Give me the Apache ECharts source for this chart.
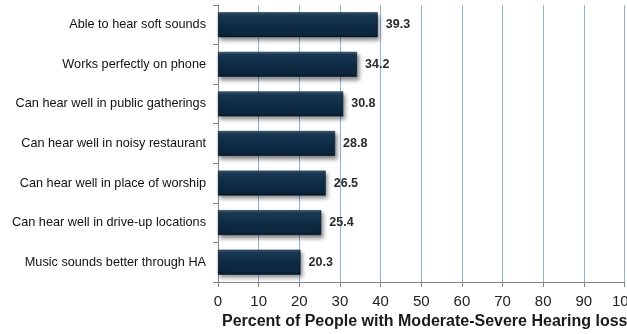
<!DOCTYPE html>
<html>
<head>
<meta charset="utf-8">
<script src="https://cdn.jsdelivr.net/npm/echarts@6/dist/echarts.min.js"></script>
<style>
  html, body { margin: 0; padding: 0; background: #ffffff; }
  #chart { width: 627px; height: 334px; }
</style>
</head>
<body>
<div id="chart"></div>
<script>
// Hearing-aid benefits, listed top to bottom
const categories = [
  'Able to hear soft sounds',
  'Works perfectly on phone',
  'Can hear well in public gatherings',
  'Can hear well in noisy restaurant',
  'Can hear well in place of worship',
  'Can hear well in drive-up locations',
  'Music sounds better through HA'
];
const values = [39.3, 34.2, 30.8, 28.8, 26.5, 25.4, 20.3];
const xTicks = [0, 10, 20, 30, 40, 50, 60, 70, 80, 90, 100];
const axisTitle = 'Percent of People with Moderate-Severe Hearing loss';

const chart = echarts.init(document.getElementById('chart'), null, { renderer: 'canvas' });

const barFill = new echarts.graphic.LinearGradient(0, 0, 0, 1, [
  { offset: 0, color: '#4b6a86' },
  { offset: 0.1, color: '#1b3b57' },
  { offset: 0.5, color: '#0e2c45' },
  { offset: 0.88, color: '#0b263d' },
  { offset: 1, color: '#061727' }
]);

chart.setOption({
  animation: false,
  backgroundColor: '#ffffff',
  textStyle: { fontFamily: 'Liberation Sans' },
  grid: { left: 218, right: 2.5, top: 5, height: 277, containLabel: false, outerBoundsMode: 'none' },
  title: {
    text: axisTitle,
    left: 222,
    top: 312,
    padding: 0,
    textStyle: { fontFamily: 'Liberation Sans', fontWeight: 'bold', fontSize: 16, lineHeight: 20, color: '#1a1a1a' }
  },
  xAxis: {
    type: 'value',
    min: xTicks[0],
    max: xTicks[xTicks.length - 1],
    interval: 10,
    axisLine: { show: true, lineStyle: { color: '#868686', width: 1 } },
    axisTick: { show: true, length: 5, lineStyle: { color: '#868686' } },
    axisLabel: { fontSize: 15, color: '#222222', margin: 12, showMaxLabel: true },
    splitLine: { show: true, lineStyle: { color: '#8eb4e3', width: 1 } }
  },
  yAxis: {
    type: 'category',
    data: categories,
    inverse: true,
    axisLine: { show: true, lineStyle: { color: '#868686', width: 1 } },
    axisTick: { show: true, length: 5, lineStyle: { color: '#868686' } },
    axisLabel: { fontSize: 12.7, color: '#111111', margin: 12 },
    splitLine: { show: false }
  },
  series: [{
    type: 'bar',
    data: values,
    barWidth: '63%',
    itemStyle: {
      color: barFill,
      borderColor: '#061a2c',
      borderWidth: 0.6,
      shadowColor: 'rgba(0,0,0,0.45)',
      shadowBlur: 4,
      shadowOffsetX: 2,
      shadowOffsetY: 3
    },
    label: {
      show: true,
      position: 'right',
      distance: 8,
      fontSize: 12.5,
      fontWeight: 'bold',
      color: '#2a2a2a',
      formatter: p => p.value.toFixed(1)
    }
  }]
});
</script>
</body>
</html>
